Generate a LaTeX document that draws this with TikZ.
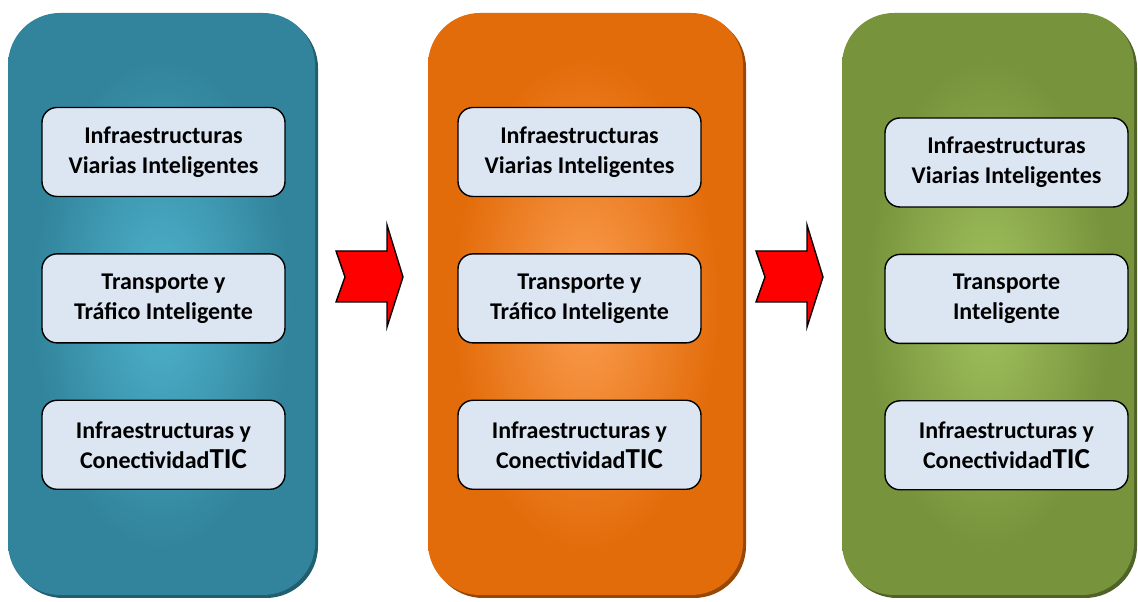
\documentclass[tikz,border=0pt]{standalone}
\usepackage{fontspec}
\setmainfont{Carlito}
\usepackage{tikz}
\usetikzlibrary{positioning,shadows}
\definecolor{tealedge}{HTML}{31849B}
\definecolor{tealglow}{HTML}{4BACC6}
\definecolor{tealshade}{HTML}{215E6E}
\definecolor{orangeedge}{HTML}{E36C0A}
\definecolor{orangeglow}{HTML}{F79646}
\definecolor{orangeshade}{HTML}{984806}
\definecolor{greenedge}{HTML}{77933C}
\definecolor{greenglow}{HTML}{9BBB59}
\definecolor{greenshade}{HTML}{4F6228}
\definecolor{boxfill}{HTML}{DCE6F2}
\pgfdeclareradialshading{tealglowing}{\pgfpoint{0bp}{0bp}}{color(0bp)=(tealglow); color(3bp)=(tealglow); color(21bp)=(tealedge); color(100bp)=(tealedge)}
\pgfdeclareradialshading{orangeglowing}{\pgfpoint{0bp}{0bp}}{color(0bp)=(orangeglow); color(3bp)=(orangeglow); color(21bp)=(orangeedge); color(100bp)=(orangeedge)}
\pgfdeclareradialshading{greenglowing}{\pgfpoint{0bp}{0bp}}{color(0bp)=(greenglow); color(3bp)=(greenglow); color(21bp)=(greenedge); color(100bp)=(greenedge)}
\tikzset{
  panel/.style={rounded corners=52pt, minimum height=582pt, inner sep=0pt},
  itembox/.style={draw=black, line width=1.4pt, fill=boxfill, rounded corners=15pt,
    minimum width=243pt, minimum height=89pt, align=center, text=black,
    font=\fontsize{24}{30}\selectfont\bfseries},
  flowarrow/.style={draw=black, line width=1.4pt, fill=red, line join=miter},
}
\newcommand{\tic}{{\fontsize{29}{30}\selectfont TIC}}
\newcommand{\flowarrow}[1]{%
  \draw[flowarrow, xshift=#1] (336,351) -- (387,351) -- (387,377) -- (403,325)
    -- (387,275) -- (387,300) -- (336,300) -- (345,325) -- cycle;
}

\begin{document}
\begin{tikzpicture}[x=1pt, y=1pt]
    \useasboundingbox (0,0) rectangle (1138,602);
    % panel 1: teal
    \node[panel, minimum width=307pt, shading=tealglowing,
      drop shadow={shadow xshift=3pt, shadow yshift=-3pt, fill=tealshade, opacity=1}]
      (tealpanel) at (161.5,298) {};
    \node[itembox] (teal1) at (163.5,450) {Infraestructuras\\Viarias Inteligentes};
    \node[itembox, below=56pt of teal1] (teal2) {Transporte y\\Tráfico Inteligente};
    \node[itembox, below=56pt of teal2] (teal3) {Infraestructuras y\\Conectividad\tic};
    % panel 2: orange
    \node[panel, minimum width=315pt, shading=orangeglowing,
      drop shadow={shadow xshift=3pt, shadow yshift=-3pt, fill=orangeshade, opacity=1}]
      (orangepanel) at (585.5,298) {};
    \node[itembox] (orange1) at (579.5,450) {Infraestructuras\\Viarias Inteligentes};
    \node[itembox, below=56pt of orange1] (orange2) {Transporte y\\Tráfico Inteligente};
    \node[itembox, below=56pt of orange2] (orange3) {Infraestructuras y\\Conectividad\tic};
    % panel 3: green
    \node[panel, minimum width=292pt, shading=greenglowing,
      drop shadow={shadow xshift=3pt, shadow yshift=-3pt, fill=greenshade, opacity=1}]
      (greenpanel) at (988,298) {};
    \node[itembox] (green1) at (1006.5,439.5) {Infraestructuras\\Viarias Inteligentes};
    \node[itembox, below=46pt of green1] (green2) {Transporte\\Inteligente};
    \node[itembox, below=56pt of green2] (green3) {Infraestructuras y\\Conectividad\tic};
    % arrows between panels
    \flowarrow{0pt}
    \flowarrow{420pt}
\end{tikzpicture}
\end{document}
